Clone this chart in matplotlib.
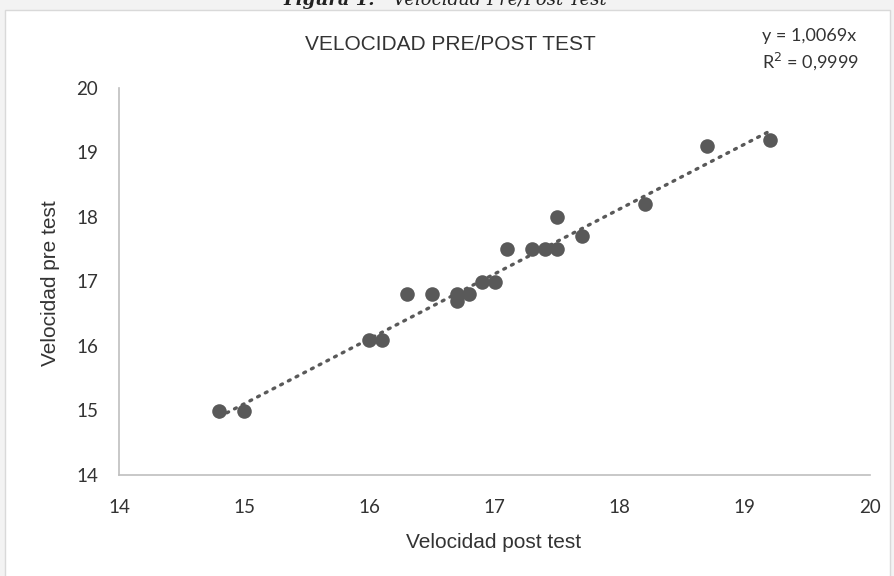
import numpy as np
import matplotlib.pyplot as plt
from matplotlib.patches import Rectangle

# data
post_test = [14.8, 15.0, 16.0, 16.1, 16.3, 16.5, 16.7, 16.7, 16.8, 16.9, 17.0,
             17.1, 17.3, 17.4, 17.5, 17.5, 17.7, 18.2, 18.7, 19.2]
pre_test = [15.0, 15.0, 16.1, 16.1, 16.8, 16.8, 16.8, 16.7, 16.8, 17.0, 17.0,
            17.5, 17.5, 17.5, 17.5, 18.0, 17.7, 18.2, 19.1, 19.2]
slope = 1.0069
ticks = [14, 15, 16, 17, 18, 19, 20]

grey = "#595959"
axis_col = "#bfbfbf"
txt_col = "#333333"

fig = plt.figure(figsize=(8.94, 5.76), dpi=100)
fig.patch.set_facecolor("#f3f3f3")

# white chart panel with thin border
fig.patches.append(Rectangle((5 / 894, -0.01), 885 / 894, 1 - 10 / 576 + 0.01,
                             transform=fig.transFigure, facecolor="white",
                             edgecolor="#d9d9d9", linewidth=1, zorder=-5))

# clipped caption at top
fig.text(283 / 894, 1 - 5 / 576, "Figura 1.", family="DejaVu Serif", weight="bold",
         style="italic", fontsize=13, ha="left", va="baseline", color="#222222")
fig.text(393 / 894, 1 - 5 / 576, "Velocidad Pre/Post Test", family="DejaVu Serif",
         style="italic", fontsize=13, ha="left", va="baseline", color="#222222")

ax = fig.add_axes([119 / 894, 1 - 475 / 576, 751 / 894, 387 / 576])
ax.set_facecolor("none")

x = np.array(post_test)
xs = np.array([x.min(), x.max()])
ax.plot(xs, slope * xs, linestyle=(0, (0.6, 2.0)), color=grey, linewidth=2.4,
        dash_capstyle="round")
ax.scatter(post_test, pre_test, s=110, color=grey, zorder=3, linewidths=0)

ax.set_xlim(14, 20)
ax.set_ylim(14, 20)
ax.set_xticks(ticks)
ax.set_yticks(ticks)
ax.tick_params(length=0, labelsize=13.5, colors=txt_col)
for lab in ax.get_xticklabels() + ax.get_yticklabels():
    lab.set_family("Lato")
ax.tick_params(axis="x", pad=17)
ax.tick_params(axis="y", pad=15)

for side in ["top", "right"]:
    ax.spines[side].set_visible(False)
for side in ["left", "bottom"]:
    ax.spines[side].set_color(axis_col)
    ax.spines[side].set_linewidth(1.2)

fig.text(450 / 894, 1 - 45 / 576, "VELOCIDAD PRE/POST TEST", family="Liberation Sans",
         fontsize=15, ha="center", va="center", color=txt_col)
fig.text(494 / 894, 1 - 543 / 576, "Velocidad post test", family="Liberation Sans",
         fontsize=15, ha="center", va="center", color=txt_col)
fig.text(51 / 894, 1 - 283 / 576, "Velocidad pre test", family="Liberation Sans",
         fontsize=15, ha="center", va="center", rotation=90, color=txt_col)

fig.text(762 / 894, 1 - 36 / 576, "y = 1,0069x", family="Lato",
         fontsize=13, ha="left", va="center", color=txt_col)
fig.text(762 / 894, 1 - 61 / 576, "R$^2$ = 0,9999", family="Lato",
         fontsize=13, ha="left", va="center", color=txt_col)

fig.savefig("out.png", dpi=100, facecolor=fig.get_facecolor())
